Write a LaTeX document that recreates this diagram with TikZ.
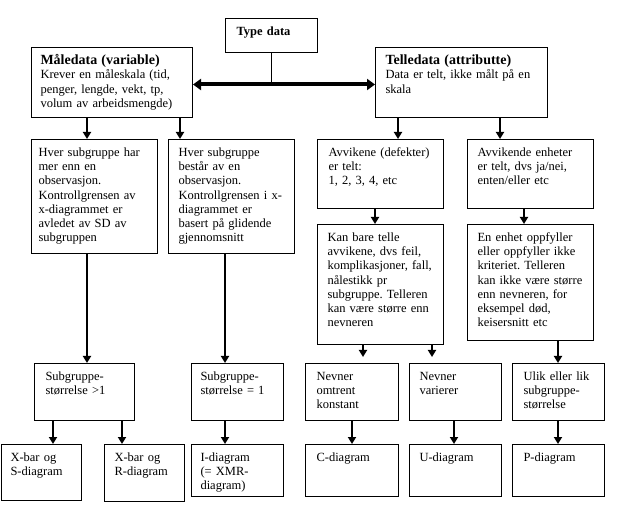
\documentclass[tikz,border=0pt]{standalone}
\usepackage{fontspec}
\setmainfont{Liberation Serif}
\usetikzlibrary{arrows.meta}
\frenchspacing

\begin{document}
\begin{tikzpicture}[x=1pt, y=-1pt,
  box/.style={draw, line width=1pt, anchor=north west, align=left,
    inner ysep=8pt, text height=9pt,
    font=\fontsize{12.5}{14.2}\selectfont},
  arr/.style={line width=2.4pt, -{Triangle[width=8pt,length=7pt]}},
  dbl/.style={line width=4pt, {Triangle[width=11pt,length=8pt]}-{Triangle[width=11pt,length=8pt]}}]
\useasboundingbox (0,0) rectangle (624,529);
\node [box, inner xsep=11pt, text width=70pt, text depth=9pt] (type) at (225,18) {\textbf{Type data}};
\node [box, inner xsep=9pt, text width=143pt, text depth=45pt, font=\fontsize{12.5}{14.5}\selectfont] (maale) at (31,47)
  {{\fontsize{14}{15}\selectfont\bfseries Måledata (variable)}\\ Krever en måleskala (tid,\\ penger, lengde, vekt, tp,\\ volum av arbeidsmengde)};
\node [box, inner xsep=10pt, text width=152pt, text depth=45pt, font=\fontsize{12.5}{14.5}\selectfont] (telle) at (375,47)
  {{\fontsize{14}{15}\selectfont\bfseries Telledata (attributte)}\\ Data er telt, ikke målt på en\\ skala};
\node [box, inner xsep=7pt, text width=112pt, text depth=89pt] (hver1) at (31,139)
  {Hver subgruppe har\\ mer enn en\\ observasjon.\\ Kontrollgrensen av\\ x-diagrammet er\\ avledet av SD av\\ subgruppen};
\node [box, inner xsep=10pt, text width=106pt, text depth=89pt] (hver2) at (168,139)
  {Hver subgruppe\\ består av en\\ observasjon.\\ Kontrollgrensen i x-\\ diagrammet er\\ basert på glidende\\ gjennomsnitt};
\node [box, inner xsep=11pt, text width=104pt, text depth=44pt] (avv) at (317,139)
  {Avvikene (defekter)\\ er telt:\\ 1, 2, 3, 4, etc};
\node [box, inner xsep=10pt, text width=106pt, text depth=44pt] (avvenh) at (467,139)
  {Avvikende enheter\\ er telt, dvs ja/nei,\\ enten/eller etc};
\node [box, inner xsep=10pt, text width=106pt, text depth=95pt] (kan) at (317,224)
  {Kan bare telle\\ avvikene, dvs feil,\\ komplikasjoner, fall,\\ nålestikk pr\\ subgruppe. Telleren\\ kan være større enn\\ nevneren};
\node [box, inner xsep=10pt, text width=106pt, text depth=91pt] (enhet) at (467,224)
  {En enhet oppfyller\\ eller oppfyller ikke\\ kriteriet. Telleren\\ kan ikke være større\\ enn nevneren, for\\ eksempel død,\\ keisersnitt etc};
\node [box, inner xsep=11pt, text width=78pt, text depth=32pt] (sgstor) at (34,363) {Subgruppe-\\ størrelse >1};
\node [box, inner xsep=9pt, text width=74pt, text depth=32pt] (sglik) at (191,363) {Subgruppe-\\ størrelse = 1};
\node [box, inner xsep=11pt, text width=71pt, text depth=32pt] (nevk) at (305,363) {Nevner\\ omtrent\\ konstant};
\node [box, inner xsep=10pt, text width=72pt, text depth=32pt] (nevv) at (409,363) {Nevner\\ varierer};
\node [box, inner xsep=11pt, text width=70pt, text depth=32pt] (ulik) at (512,363) {Ulik eller lik\\ subgruppe-\\ størrelse};
\node [box, inner xsep=9pt, text width=62pt, text depth=31pt] (xs) at (1,444) {X-bar og\\ S-diagram};
\node [box, inner xsep=10pt, text width=60pt, text depth=32pt] (xr) at (104,444) {X-bar og\\ R-diagram};
\node [box, inner xsep=9pt, text width=74pt, text depth=27pt] (idia) at (191,444) {I-diagram\\ (= XMR-\\ diagram)};
\node [box, inner xsep=11pt, text width=71pt, text depth=27pt] (cdia) at (305,444) {C-diagram};
\node [box, inner xsep=10pt, text width=72pt, text depth=27pt] (udia) at (409,444) {U-diagram};
\node [box, inner xsep=11pt, text width=70pt, text depth=27pt] (pdia) at (512,444) {P-diagram};
\draw [line width=1pt] (type.south) -- ([yshift=-2pt]type.south |- maale.east);
\draw [dbl] ([yshift=-2pt]maale.east) -- ([yshift=-2pt]telle.west);
\foreach \a/\b/\s in {maale/hver1/56, maale/hver2/149, telle/avv/23, telle/avvenh/125,
  avv/kan/58, avvenh/enhet/57, hver1/sgstor/56, hver2/sglik/57, enhet/ulik/91,
  sgstor/xs/19, sgstor/xr/88, sglik/idia/34, nevk/cdia/47, nevv/udia/45, ulik/pdia/46}
\draw [arr] ([xshift=\s pt]\a.south west) -- ([xshift=\s pt]\a.south west |- \b.north);
\foreach \b/\s in {nevk/46, nevv/115}
\draw [arr, shorten >=6pt] ([xshift=\s pt]kan.south west) -- ([xshift=\s pt]kan.south west |- \b.north);
\end{tikzpicture}
\end{document}
